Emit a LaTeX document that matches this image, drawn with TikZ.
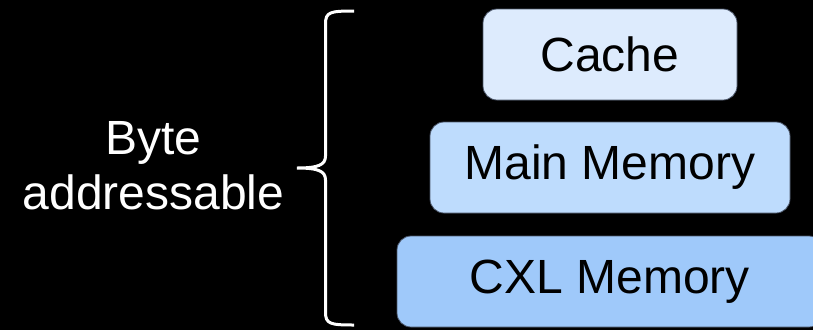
\documentclass[tikz,border=0pt]{standalone}
\usepackage{fontspec}
\setmainfont{Liberation Sans}
\definecolor{cachec}{HTML}{DDEBFD}
\definecolor{mainc}{HTML}{BEDCFD}
\definecolor{cxlc}{HTML}{9FC9FA}
\definecolor{edgec}{HTML}{4A5568}
\begin{document}
\begin{tikzpicture}[x=1pt,y=-1pt,
  tier/.style={draw=edgec, line width=0.8pt, rounded corners=14pt, minimum height=91pt, inner sep=0pt,
    font=\fontsize{48pt}{56pt}\selectfont, text=black},
  bracestyle/.style={draw=white, line width=3pt}]
\fill[black] (0,0) rectangle (813,330);
\useasboundingbox (0,0) rectangle (813,330);
\node[tier, fill=cachec, minimum width=254pt] (cache) at (610,54.5) {Cache};
\node[tier, fill=mainc, minimum width=360pt] (main) at (610,167.5) {Main Memory};
\node[tier, fill=cxlc, minimum width=426pt] (cxl) at (610,281.5) {CXL Memory};
\node[text=white, align=center, font=\fontsize{48pt}{55pt}\selectfont] (lbl) at (153.5,166) {Byte\\addressable};
\coordinate (btop) at (354,11);
\coordinate (btip) at (297,168);
\coordinate (bbot) at (354,325);
\draw[bracestyle] (btop) .. controls (330,11) and (325.5,12) .. (325.5,24)
  -- (325.5,156) .. controls (325.5,165) and (318,168) .. (btip)
  .. controls (318,168) and (325.5,171) .. (325.5,180)
  -- (325.5,312) .. controls (325.5,324) and (330,325) .. (bbot);
\end{tikzpicture}
\end{document}
